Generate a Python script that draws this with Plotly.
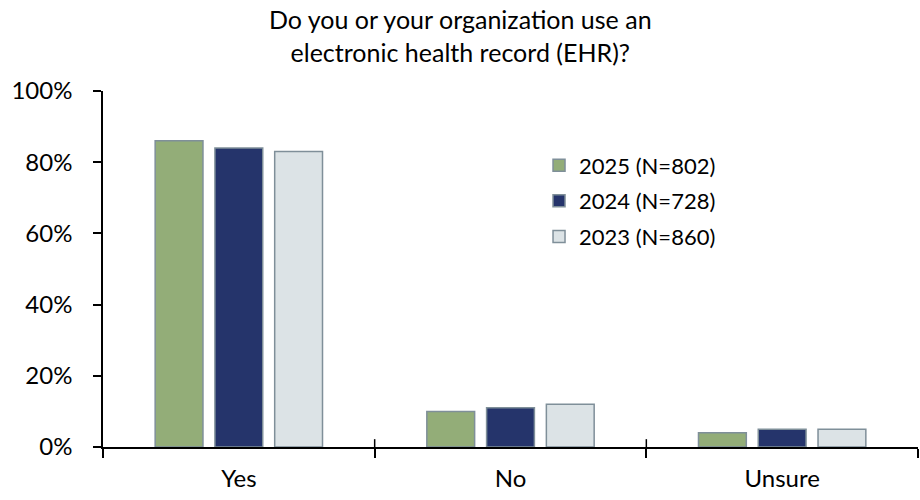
import plotly.graph_objects as go

categories = ["Yes", "No", "Unsure"]
series_names = ["2025 (N=802)", "2024 (N=728)", "2023 (N=860)"]
values_2025 = [86, 10, 4]
values_2024 = [84, 11, 5]
values_2023 = [83, 12, 5]
y_ticks = [0, 20, 40, 60, 80, 100]
y_tick_labels = ["0%", "20%", "40%", "60%", "80%", "100%"]
title_text = "Do you or your organization use an<br>electronic health record (EHR)?"

colors = ["#93AD78", "#25346B", "#DCE3E6"]
FONT = "Lato, 'Open Sans', sans-serif"

fig = go.Figure()
for i, (name, vals, col) in enumerate(zip(series_names, [values_2025, values_2024, values_2023], colors)):
    fig.add_trace(go.Bar(
        x=categories, y=vals, name=name, legendgroup=f"g{i}",
        marker=dict(color=col, line=dict(color="#7F8F99", width=1.5)),
    ))

# crossing upper parts of the category boundary ticks
for xb in [0.5, 1.5]:
    fig.add_shape(type="line", xref="x", yref="y", x0=xb, x1=xb, y0=0, y1=2.2,
                  line=dict(color="black", width=1.5))

# title centred on the whole figure (x = 460 px)
fig.add_annotation(text=title_text, xref="paper", yref="paper",
                   x=(460 - 103) / 815, y=1 + (91 - 36) / 356,
                   xanchor="center", yanchor="middle", showarrow=False,
                   font=dict(size=25, family=FONT, color="black"))

fig.update_layout(
    width=920, height=500,
    paper_bgcolor="white", plot_bgcolor="white",
    margin=dict(l=103, r=2, t=91, b=53),
    font=dict(family=FONT, size=24, color="black"),
    barmode="group", bargap=0.34, bargroupgap=0.2,
    showlegend=True,
    legend=dict(x=0.535, y=0.85, xanchor="left", yanchor="top",
                font=dict(size=22), tracegroupgap=4, traceorder="grouped",
                itemwidth=30, bgcolor="rgba(0,0,0,0)"),
)
fig.update_xaxes(showline=True, linecolor="black", linewidth=1.5,
                 ticks="outside", tickson="boundaries", ticklen=9, tickwidth=1.5,
                 tickcolor="black", showgrid=False, tickfont=dict(size=24),
                 ticklabelstandoff=9)
fig.update_yaxes(range=[0, 100], tickvals=y_ticks, ticktext=y_tick_labels,
                 showline=True, linecolor="black", linewidth=1.5,
                 ticks="outside", ticklen=8, tickwidth=1.5, tickcolor="black",
                 showgrid=False, zeroline=False, tickfont=dict(size=24),
                 ticklabelstandoff=16)

fig.write_html("out.html", config={"displayModeBar": False},
               post_script="document.body.style.margin='0';")
